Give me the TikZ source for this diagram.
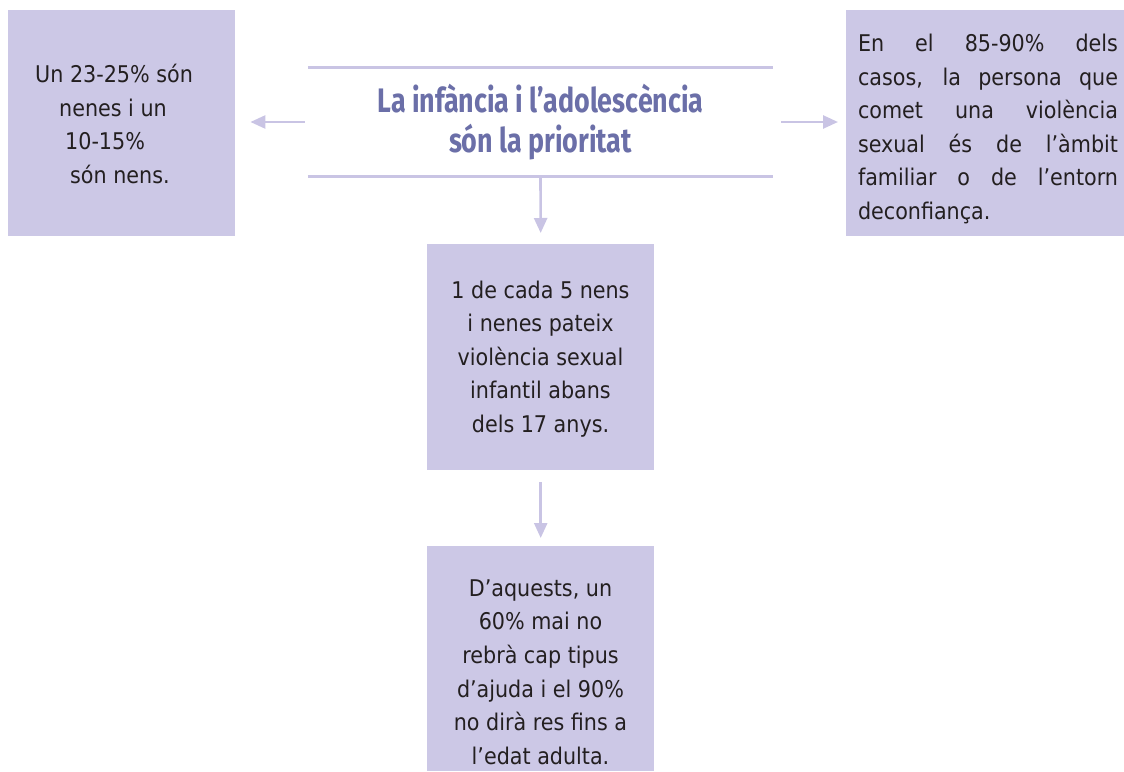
\documentclass[tikz,border=0pt]{standalone}
\usepackage{fontspec}
\setmainfont{DejaVu Sans Condensed}
\newfontfamily\titlefont[FakeStretch=0.79]{Fira Sans Bold}
\usetikzlibrary{arrows.meta}
\definecolor{boxfill}{HTML}{CCC8E6}
\definecolor{linecol}{HTML}{C9C4E4}
\definecolor{titlecol}{HTML}{6B6FA8}
\definecolor{textcol}{HTML}{231F20}
\begin{document}
\begin{tikzpicture}[x=1pt,y=-1pt,
  box/.style={fill=boxfill, draw=none, inner sep=0pt, anchor=north west},
  txt/.style={text=textcol, font=\fontsize{23}{33.6}\selectfont, inner sep=0pt, align=center},
  arr/.style={draw=linecol, line width=2.6pt, -{Triangle[length=15pt,width=13pt]}},
  rulestyle/.style={draw=linecol, line width=2.8pt}]
\useasboundingbox (0,0) rectangle (1124,771);
% boxes
\node[box, minimum width=227pt, minimum height=226pt] (left) at (8,10) {};
\node[box, minimum width=278pt, minimum height=226pt] (right) at (846,10) {};
\node[box, minimum width=227pt, minimum height=226pt] (mid) at (427,244) {};
\node[box, minimum width=227pt, minimum height=225pt] (bot) at (427,546) {};
% title
\node[minimum width=465pt, minimum height=108pt, inner sep=0pt, align=center,
  text=titlecol, font=\titlefont\fontsize{34}{40}\selectfont] (title) at (540.5,122)
  {La infància i l’adolescència\\són la prioritat};
\draw[rulestyle] (title.north west) -- (title.north east);
\draw[rulestyle] (title.south west) -- (title.south east);
% texts
\node[txt, align=left, anchor=west] (lefttxt) at (35,124)
  {Un 23-25\% són\\\hspace*{24pt}nenes i un\\\hspace*{30pt}10-15\%\\\hspace*{35pt}són nens.};
\node[txt, align=justify, text width=260pt] (righttxt) at (988,129)
  {En el 85-90\% dels\linebreak casos, la persona que\linebreak comet una violència\linebreak sexual és de l’àmbit\linebreak familiar o de l’entorn\linebreak deconfiança.};
\node[txt] (midtxt) at (540.5,359)
  {1 de cada 5 nens\\i nenes pateix\\violència sexual\\infantil abans\\dels 17 anys.};
\node[txt] (bottxt) at (540.5,672)
  {D’aquests, un\\60\% mai no\\rebrà cap tipus\\d’ajuda i el 90\%\\no dirà res fins a\\l’edat adulta.};
% connectors
\draw[arr, shorten <=3pt, shorten >=15pt] (title.west) -- (title.west -| left.east);
\draw[arr, shorten <=8pt, shorten >=8pt] (title.east) -- (title.east -| right.west);
\draw[arr, shorten <=2pt, shorten >=11pt] (title.south) -- (mid.north);
\draw[arr, shorten <=12pt, shorten >=8pt] (mid.south) -- (bot.north);
\end{tikzpicture}
\end{document}
